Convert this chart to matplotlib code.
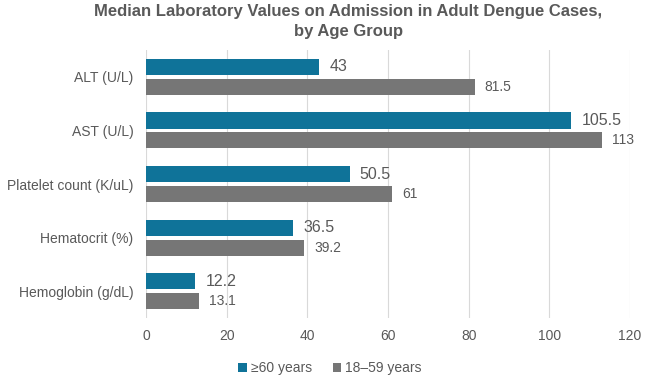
import numpy as np
import matplotlib.pyplot as plt
from matplotlib import font_manager

categories = ["ALT (U/L)", "AST (U/L)", "Platelet count (K/uL)", "Hematocrit (%)", "Hemoglobin (g/dL)"]
older = [43, 105.5, 50.5, 36.5, 12.2]
younger = [81.5, 113, 61, 39.2, 13.1]
labels_older = ["43", "105.5", "50.5", "36.5", "12.2"]
labels_younger = ["81.5", "113", "61", "39.2", "13.1"]
series_names = ["\u226560 years", "18\u201359 years"]

plt.rcParams['font.family'] = ['Liberation Sans', 'DejaVu Sans']
names = set(f.name for f in font_manager.fontManager.ttflist)
title_font = 'Liberation Sans Narrow' if 'Liberation Sans Narrow' in names else 'Liberation Sans'

blue = "#0f7399"
gray = "#767676"
txt = "#595959"

fig = plt.figure(figsize=(6.5, 3.81), dpi=100)
ax = fig.add_axes([0.2246, 0.165, 0.7446, 0.704])

y = np.arange(len(categories))
h = 0.3
gap = 0.07
b1 = ax.barh(y - (h + gap) / 2, older, height=h, color=blue, label=series_names[0])
b2 = ax.barh(y + (h + gap) / 2, younger, height=h, color=gray, label=series_names[1])

for bar, lab in zip(b1, labels_older):
    ax.text(bar.get_width() + 2.5, bar.get_y() + bar.get_height() / 2, lab,
            va="center", ha="left", fontsize=11.5, color=txt)
for bar, lab in zip(b2, labels_younger):
    ax.text(bar.get_width() + 2.5, bar.get_y() + bar.get_height() / 2, lab,
            va="center", ha="left", fontsize=10, color=txt)

ax.set_xlim(0, 120)
ax.set_ylim(len(categories) - 0.5, -0.5)
ax.set_xticks(np.arange(0, 121, 20))
ax.set_yticks(y)
ax.set_yticklabels(categories)
ax.tick_params(axis="both", length=0, labelsize=10, colors=txt, pad=9)
ax.tick_params(axis="x", pad=8)
ax.xaxis.grid(True, color="#d9d9d9", linewidth=0.8)
ax.set_axisbelow(True)
for s in ax.spines.values():
    s.set_visible(False)

fig.suptitle("Median Laboratory Values on Admission in Adult Dengue Cases,\nby Age Group",
             fontsize=12, fontweight="bold", color=txt, y=0.99, x=0.536,
             family=title_font, linespacing=1.4)

fig.legend(handles=[b1, b2], loc="lower center", bbox_to_anchor=(0.508, -0.018), ncol=2,
           frameon=False, fontsize=10, handlelength=0.6, handleheight=0.6,
           handletextpad=0.3, columnspacing=1.5, labelcolor=txt)

fig.savefig("out.png", dpi=100)
